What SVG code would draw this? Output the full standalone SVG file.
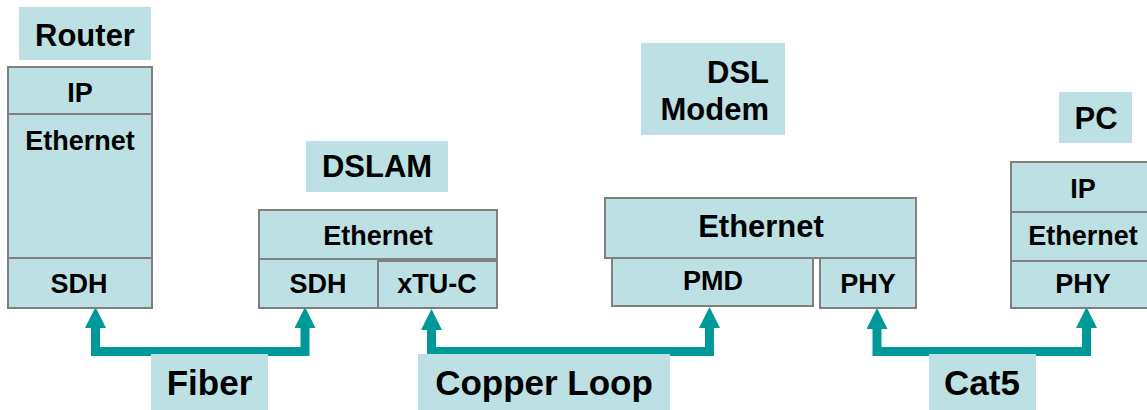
<svg xmlns="http://www.w3.org/2000/svg" width="1147" height="410" viewBox="0 0 1147 410">
<style>
.lbl{fill:#BCE0E3;stroke:none}
.ly{fill:#BCE0E3;stroke:#808080;stroke-width:2}
text{font-family:"Liberation Sans",Arial,sans-serif;font-weight:bold;fill:#000;text-anchor:middle}
.t27{font-size:27px}
.t31{font-size:31px}
.t35{font-size:35px}
.wire{fill:none;stroke:#009999;stroke-width:9;stroke-linejoin:miter}
</style>
<defs>
<marker id="ah" markerUnits="userSpaceOnUse" viewBox="0 0 21 21" refX="1" refY="10.5" markerWidth="21" markerHeight="21" orient="auto-start-reverse">
<path d="M0,0 L21,10.5 L0,21 Z" fill="#009999"/>
</marker>
</defs>
<rect width="1147" height="410" fill="#fff"/>

<g id="connectors">
<path class="wire" d="M95.5,327 V351.5 H305 V327" marker-start="url(#ah)" marker-end="url(#ah)"/>
<path class="wire" d="M431.5,329 V351.5 H709.5 V327" marker-start="url(#ah)" marker-end="url(#ah)"/>
<path class="wire" d="M877,328 V351.5 H1086.5 V327" marker-start="url(#ah)" marker-end="url(#ah)"/>
</g>

<g id="router">
<rect class="lbl" x="19" y="7" width="132" height="53"/>
<text class="t31" x="85" y="46">Router</text>
<rect class="ly" x="8" y="67" width="144" height="47"/>
<text class="t27" x="80" y="102">IP</text>
<rect class="ly" x="8" y="114" width="144" height="144"/>
<text class="t27" x="80" y="150">Ethernet</text>
<rect class="ly" x="8" y="258" width="144" height="50"/>
<text class="t27" x="79" y="293">SDH</text>
</g>

<g id="dslam">
<rect class="lbl" x="306" y="141" width="142" height="51"/>
<text class="t31" x="377" y="177">DSLAM</text>
<rect class="ly" x="259" y="210" width="238" height="49"/>
<text class="t27" x="378" y="245">Ethernet</text>
<rect class="ly" x="259" y="259" width="119" height="49"/>
<text class="t27" x="318" y="293">SDH</text>
<rect class="ly" x="378" y="261" width="119" height="47"/>
<text class="t27" x="437" y="293">xTU-C</text>
</g>

<g id="dsl-modem">
<rect class="lbl" x="641" y="43" width="144" height="92"/>
<text class="t31" x="769" y="83" style="text-anchor:end">DSL</text>
<text class="t31" x="769" y="120" style="text-anchor:end">Modem</text>
<rect class="ly" x="605" y="198" width="311" height="60"/>
<text class="t31" x="761" y="237">Ethernet</text>
<rect class="ly" x="612" y="258" width="201" height="48"/>
<text class="t27" x="713" y="290">PMD</text>
<rect class="ly" x="820" y="258" width="96" height="50"/>
<text class="t27" x="868" y="293">PHY</text>
</g>

<g id="pc">
<rect class="lbl" x="1059" y="92" width="73" height="51"/>
<text class="t31" x="1096" y="129">PC</text>
<rect class="ly" x="1011" y="162" width="145" height="50"/>
<text class="t27" x="1083" y="198">IP</text>
<rect class="ly" x="1011" y="212" width="145" height="49"/>
<text class="t27" x="1083" y="245">Ethernet</text>
<rect class="ly" x="1011" y="261" width="145" height="47"/>
<text class="t27" x="1083" y="293">PHY</text>
</g>

<g id="fiber">
<rect class="lbl" x="151" y="354" width="117" height="56"/>
<text class="t35" x="209.5" y="395">Fiber</text>
</g>

<g id="copper-loop">
<rect class="lbl" x="418" y="354" width="252" height="56"/>
<text class="t35" x="544" y="395">Copper Loop</text>
</g>

<g id="cat5">
<rect class="lbl" x="929" y="354" width="107" height="56"/>
<text class="t35" x="982" y="395">Cat5</text>
</g>
</svg>
